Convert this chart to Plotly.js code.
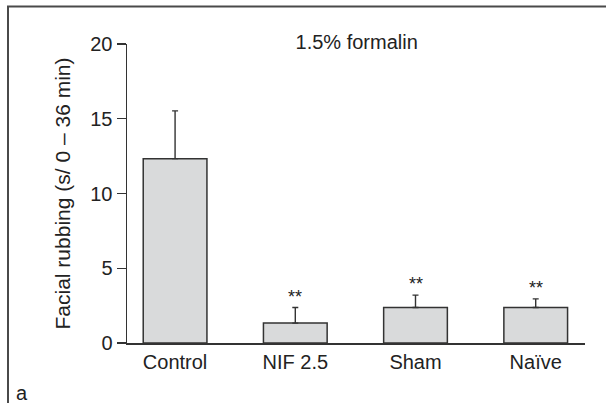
<!DOCTYPE html>
<html>
<head>
<meta charset="utf-8">
<script src="https://cdn.plot.ly/plotly-3.0.1.min.js"></script>
<style>html,body{margin:0;padding:0;background:#fff;}#chart{width:606px;height:403px;}</style>
</head>
<body>
<div id="chart"></div>
<script>
// Data
const categories = ["Control", "NIF 2.5", "Sham", "Naïve"];
const meanValues = [12.33, 1.33, 2.37, 2.37];
const errorUp = [3.2, 1.04, 0.83, 0.58];
const significance = ["", "**", "**", "**"];
const yTickValues = [0, 5, 10, 15, 20];
const yTickLabels = ["0", "5", "10", "15", "20"];

const FONT = "'Liberation Sans', Arial, Helvetica, sans-serif";
const TXT = "#222";

const L = 127, R = 21, T = 44, B = 60, W = 606, H = 403;
const pw = W - L - R, ph = H - T - B;

const trace = {
  type: "bar",
  x: categories,
  y: meanValues,
  width: 0.53,
  marker: {color: "#d9dadb", line: {color: "#333", width: 1.5}},
  error_y: {type: "data", symmetric: false, array: errorUp, arrayminus: categories.map(() => 0),
            color: "#333", thickness: 1.4, width: 3},
  hoverinfo: "skip"
};

const annotations = [];
categories.forEach((c, i) => {
  if (significance[i]) {
    annotations.push({x: c, y: meanValues[i] + errorUp[i], xref: "x", yref: "y",
      text: significance[i], showarrow: false, xanchor: "center", yanchor: "bottom", yshift: -1,
      font: {family: FONT, size: 18, color: TXT}});
  }
});
annotations.push({x: (22 - L) / pw, y: (H - B - 393) / ph, xref: "paper", yref: "paper",
  text: "a", showarrow: false, xanchor: "center", yanchor: "middle",
  font: {family: FONT, size: 20, color: TXT}});

const layout = {
  width: W, height: H,
  margin: {l: L, r: R, t: T, b: B, pad: 0},
  paper_bgcolor: "#fff", plot_bgcolor: "rgba(0,0,0,0)",
  showlegend: false,
  font: {family: FONT, color: TXT, size: 20},
  title: {text: "1.5% formalin", xref: "container", yref: "container",
          x: 356.7 / W, y: 1 - 41.7 / H, xanchor: "center", yanchor: "middle",
          font: {family: FONT, size: 20, color: TXT}},
  xaxis: {type: "category", range: [-0.4, 3.41], showline: true, linecolor: "#333", linewidth: 1.5,
          ticks: "", showgrid: false, zeroline: false, fixedrange: true,
          tickfont: {family: FONT, size: 20, color: TXT}},
  yaxis: {range: [0, 20], tickvals: yTickValues, ticktext: yTickLabels, showline: true,
          linecolor: "#333", linewidth: 1.5, ticks: "outside", ticklen: 9, tickwidth: 1.2,
          tickcolor: "#333", showgrid: false, zeroline: false, fixedrange: true,
          tickfont: {family: FONT, size: 20, color: TXT},
          title: {text: "Facial rubbing (s/ 0 – 36 min)", standoff: 14,
                  font: {family: FONT, size: 21, color: TXT}}},
  annotations: annotations,
  shapes: [{type: "rect", xref: "paper", yref: "paper",
            x0: (8 - L) / pw, x1: (620 - L) / pw, y0: (H - B - 420) / ph, y1: (H - B - 6.5) / ph,
            line: {color: "#4a4a4a", width: 2}, fillcolor: "rgba(0,0,0,0)", layer: "above"}]
};

Plotly.newPlot("chart", [trace], layout, {staticPlot: true, displayModeBar: false});
</script>
</body>
</html>
